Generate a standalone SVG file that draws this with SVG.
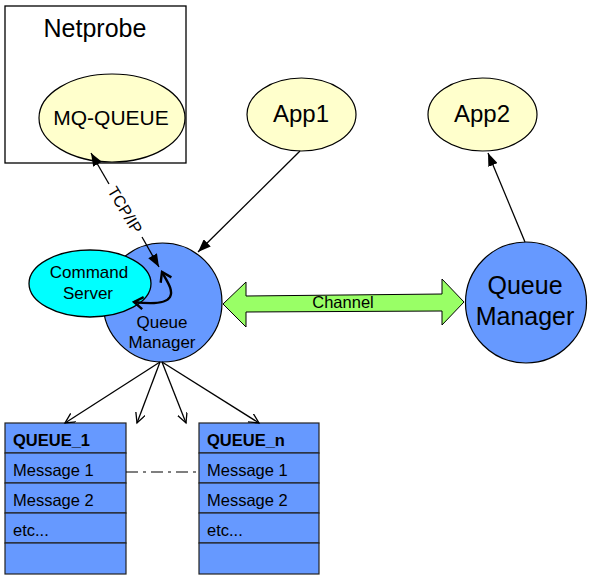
<svg xmlns="http://www.w3.org/2000/svg" width="591" height="580" viewBox="0 0 591 580">
<style>
text{font-family:"Liberation Sans",Arial,sans-serif;fill:#000}
.yel{fill:#FFFFCC;stroke:#000;stroke-width:1.2}
.blue{fill:#6699FF;stroke:#000;stroke-width:1.2}
.row{fill:#6699FF;stroke:#222;stroke-width:1.2}
.ln{stroke:#000;stroke-width:1.3;fill:none}
.c{text-anchor:middle}
.q{font-size:16.5px}
</style>
<defs>
<marker id="fa" markerUnits="userSpaceOnUse" markerWidth="14" markerHeight="10" refX="13" refY="5" orient="auto-start-reverse">
<path d="M0,0 L13,5 L0,10 z" fill="#000"/>
</marker>
<marker id="oa" markerUnits="userSpaceOnUse" markerWidth="12" markerHeight="12" refX="10" refY="5" orient="auto">
<path d="M0,0 L10,5 L0,10" fill="none" stroke="#000" stroke-width="1.3"/>
</marker>
<marker id="ta" markerUnits="userSpaceOnUse" markerWidth="14" markerHeight="16" refX="10" refY="7" orient="auto-start-reverse">
<path d="M1,1 L10,7 L1,13" fill="none" stroke="#000" stroke-width="2.4"/>
</marker>
</defs>
<rect width="591" height="580" fill="#fff"/>

<g id="netprobe">
<rect x="5" y="6" width="181" height="157" fill="#fff" stroke="#000" stroke-width="1.3"/>
<text x="95" y="37" class="c" font-size="25">Netprobe</text>
</g>
<g id="mq-queue">
<ellipse cx="112" cy="118" rx="73" ry="44" class="yel"/>
<text x="111" y="125" class="c" font-size="21">MQ-QUEUE</text>
</g>
<g id="app1">
<ellipse cx="301.5" cy="114.5" rx="54.5" ry="36.5" class="yel"/>
<text x="301" y="122" class="c" font-size="24">App1</text>
</g>
<g id="app2">
<ellipse cx="482.5" cy="114.5" rx="54.5" ry="36.5" class="yel"/>
<text x="482" y="122" class="c" font-size="24">App2</text>
</g>

<g id="qm-left">
<circle cx="162.5" cy="302.5" r="59.5" class="blue"/>
<text x="162" y="328" class="c" font-size="17">Queue</text>
<text x="162" y="348" class="c" font-size="17">Manager</text>
</g>
<g id="command-server">
<ellipse cx="90" cy="283.5" rx="61" ry="33.5" fill="#00FFFF" stroke="#000" stroke-width="1.3"/>
<text x="89" y="278" class="c" font-size="17">Command</text>
<text x="88" y="299" class="c" font-size="17">Server</text>
</g>
<g id="qm-right">
<circle cx="526" cy="302.5" r="60.5" class="blue"/>
<text x="525" y="294" class="c" font-size="25">Queue</text>
<text x="525" y="325" class="c" font-size="25">Manager</text>
</g>

<g id="queue-1">
<rect x="5" y="423" width="121" height="30" class="row"/>
<rect x="5" y="453" width="121" height="30" class="row"/>
<rect x="5" y="483" width="121" height="30" class="row"/>
<rect x="5" y="513" width="121" height="30" class="row"/>
<rect x="5" y="543" width="121" height="31" class="row"/>
<text x="13" y="446" class="q" font-weight="bold">QUEUE_1</text>
<text x="13" y="476" class="q">Message 1</text>
<text x="13" y="506" class="q">Message 2</text>
<text x="13" y="536" class="q">etc...</text>
</g>
<g id="queue-n">
<rect x="199" y="423" width="120" height="30" class="row"/>
<rect x="199" y="453" width="120" height="30" class="row"/>
<rect x="199" y="483" width="120" height="30" class="row"/>
<rect x="199" y="513" width="120" height="30" class="row"/>
<rect x="199" y="543" width="120" height="31" class="row"/>
<text x="207" y="446" class="q" font-weight="bold">QUEUE_n</text>
<text x="207" y="476" class="q">Message 1</text>
<text x="207" y="506" class="q">Message 2</text>
<text x="207" y="536" class="q">etc...</text>
</g>

<g id="connectors">
<line x1="300" y1="151" x2="198" y2="252" class="ln" marker-end="url(#fa)"/>
<line x1="525" y1="242" x2="488" y2="153" class="ln" marker-end="url(#fa)"/>
<line x1="91" y1="153" x2="109" y2="184" class="ln" marker-start="url(#fa)"/>
<line x1="142" y1="237" x2="159" y2="267" class="ln" marker-end="url(#fa)"/>
<text transform="translate(125,210) rotate(59)" class="c" font-size="16" dominant-baseline="central">TCP/IP</text>
<path d="M162,272 C166,280 174,290 170,297 C166,304 150,304 134,302" fill="none" stroke="#000" stroke-width="2.4" marker-start="url(#ta)" marker-end="url(#ta)"/>
<polygon points="223,304 246,282 246,296 442,294 442,279 464,302 442,325 442,311 246,312 246,327" fill="#99FF66" stroke="#000" stroke-width="1"/>
<text x="343" y="308" class="c" font-size="16.5">Channel</text>
<line x1="160" y1="362" x2="65" y2="423" class="ln" marker-end="url(#oa)"/>
<line x1="160" y1="362" x2="137" y2="423" class="ln" marker-end="url(#oa)"/>
<line x1="162" y1="362" x2="186" y2="423" class="ln" marker-end="url(#oa)"/>
<line x1="162" y1="362" x2="259" y2="423" class="ln" marker-end="url(#oa)"/>
<line x1="126" y1="472" x2="199" y2="472" stroke="#000" stroke-width="1.2" stroke-dasharray="12,5,3,5"/>
</g>
</svg>
